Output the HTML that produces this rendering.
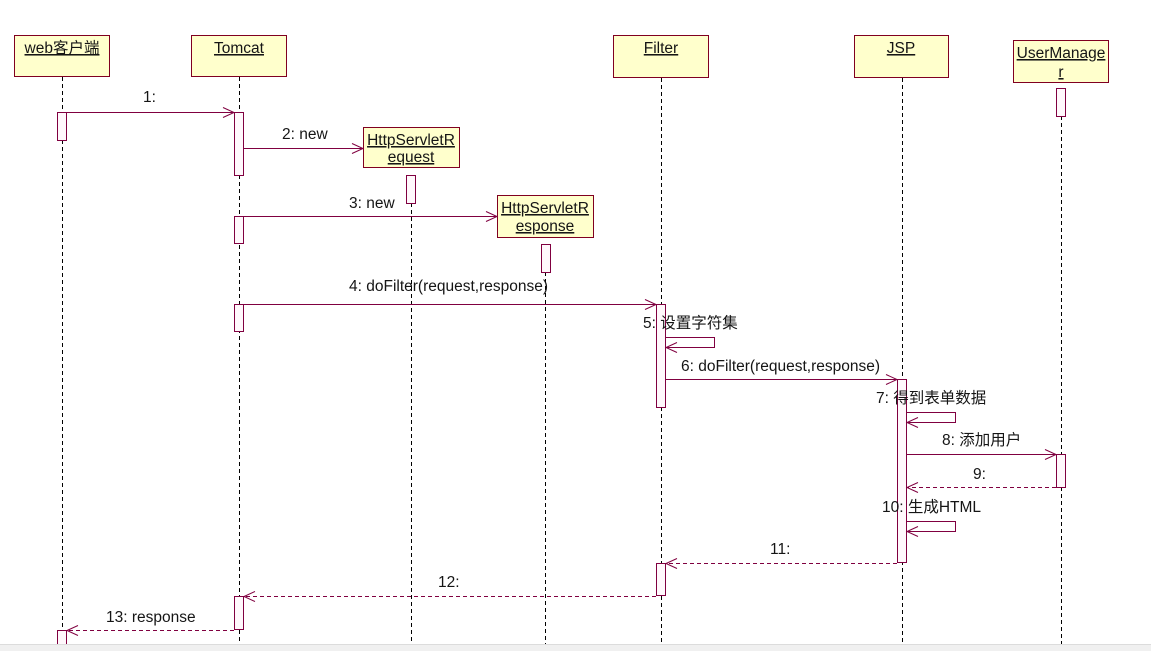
<!DOCTYPE html>
<html><head><meta charset="utf-8"><style>
html,body{margin:0;padding:0;background:#fff;}
svg{display:block;}
text{font-family:"Liberation Sans","Noto Sans CJK SC",sans-serif;font-size:15.5px;fill:#151515;}
.u{text-decoration:underline;}
</style></head><body>
<svg width="1151" height="651" viewBox="0 0 1151 651" xmlns="http://www.w3.org/2000/svg">
<defs>
<marker id="ah" markerWidth="14" markerHeight="12" refX="12" refY="6" orient="auto" markerUnits="userSpaceOnUse">
<path d="M1,1 L12,6 L1,11" fill="none" stroke="#800040" stroke-width="1"/>
</marker>
</defs>
<rect x="0" y="0" width="1151" height="651" fill="#fff"/>

<!-- lifelines -->
<g stroke="#000" stroke-width="1" stroke-dasharray="4,3" fill="none">
<line x1="62.5" y1="77" x2="62.5" y2="645"/>
<line x1="239.5" y1="77" x2="239.5" y2="645"/>
<line x1="411.5" y1="203" x2="411.5" y2="645"/>
<line x1="545.5" y1="272" x2="545.5" y2="645"/>
<line x1="661.5" y1="78" x2="661.5" y2="645"/>
<line x1="902.5" y1="78" x2="902.5" y2="645"/>
<line x1="1061.5" y1="116" x2="1061.5" y2="645"/>
</g>

<!-- object boxes -->
<g fill="#ffffcc" stroke="#800020" stroke-width="1">
<rect x="14.5" y="35.5" width="95" height="41"/>
<rect x="191.5" y="35.5" width="95" height="41"/>
<rect x="613.5" y="35.5" width="95" height="42"/>
<rect x="854.5" y="35.5" width="94" height="42"/>
<rect x="1013.5" y="40.5" width="95" height="42"/>
<rect x="363.5" y="127.5" width="96" height="40"/>
<rect x="497.5" y="195.5" width="96" height="42"/>
</g>
<g text-anchor="middle">
<text class="u" x="62" y="53">web客户端</text>
<text class="u" x="239" y="53">Tomcat</text>
<text class="u" x="661" y="53">Filter</text>
<text class="u" x="901" y="53">JSP</text>
<text class="u" x="1061" y="58">UserManage</text>
<text class="u" x="1061" y="77">r</text>
<text class="u" x="411" y="145">HttpServletR</text>
<text class="u" x="411" y="162">equest</text>
<text class="u" x="545" y="213">HttpServletR</text>
<text class="u" x="545" y="231">esponse</text>
</g>

<!-- activations -->
<g fill="#fff8fc" stroke="#800040" stroke-width="1">
<rect x="57.5" y="112.5" width="9" height="28"/>
<rect x="57.5" y="630.5" width="9" height="20"/>
<rect x="234.5" y="112.5" width="9" height="63"/>
<rect x="234.5" y="216.5" width="9" height="27"/>
<rect x="234.5" y="304.5" width="9" height="27"/>
<rect x="234.5" y="596.5" width="9" height="33"/>
<rect x="406.5" y="175.5" width="9" height="28"/>
<rect x="541.5" y="244.5" width="9" height="28"/>
<rect x="656.5" y="304.5" width="9" height="103"/>
<rect x="656.5" y="563.5" width="9" height="32"/>
<rect x="897.5" y="379.5" width="9" height="183"/>
<rect x="1056.5" y="88.5" width="9" height="28"/>
<rect x="1056.5" y="454.5" width="9" height="33"/>
</g>

<!-- messages -->
<g stroke="#800040" stroke-width="1" fill="none" marker-end="url(#ah)">
<line x1="67" y1="112.5" x2="234" y2="112.5"/>
<line x1="244" y1="148.5" x2="363" y2="148.5"/>
<line x1="244" y1="216.5" x2="497" y2="216.5"/>
<line x1="244" y1="304.5" x2="656" y2="304.5"/>
<polyline points="666,337.5 714.5,337.5 714.5,347.5 666,347.5"/>
<line x1="666" y1="379.5" x2="897" y2="379.5"/>
<polyline points="907,412.5 955.5,412.5 955.5,422.5 907,422.5"/>
<line x1="907" y1="454.5" x2="1056" y2="454.5"/>
<polyline points="907,521.5 955.5,521.5 955.5,531.5 907,531.5"/>
</g>
<g stroke="#800040" stroke-width="1" fill="none" stroke-dasharray="4,3" marker-end="url(#ah)">
<line x1="1056" y1="487.5" x2="907" y2="487.5"/>
<line x1="897" y1="563.5" x2="666" y2="563.5"/>
<line x1="656" y1="596.5" x2="244" y2="596.5"/>
<line x1="234" y1="630.5" x2="67" y2="630.5"/>
</g>

<!-- labels -->
<text x="143" y="102">1:</text>
<text x="282" y="139">2: new</text>
<text x="349" y="208">3: new</text>
<text x="349" y="291">4: doFilter(request,response)</text>
<text x="643" y="328">5: 设置字符集</text>
<text x="681" y="371">6: doFilter(request,response)</text>
<text x="876" y="403">7: 得到表单数据</text>
<text x="942" y="445">8: 添加用户</text>
<text x="973" y="479">9:</text>
<text x="882" y="512">10: 生成HTML</text>
<text x="770" y="554">11:</text>
<text x="438" y="587">12:</text>
<text x="106" y="622">13: response</text>

<!-- bottom bar -->
<rect x="0" y="645" width="1151" height="6" fill="#f0f0f0"/>
<line x1="0" y1="644.5" x2="1151" y2="644.5" stroke="#dcdcdc" stroke-width="1"/>
</svg>
</body></html>
